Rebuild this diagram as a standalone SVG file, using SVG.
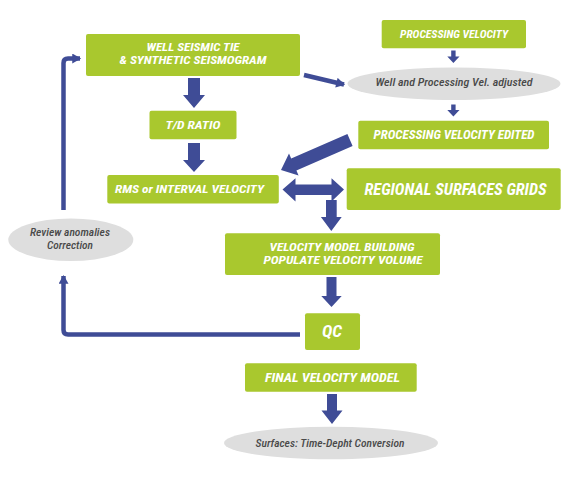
<svg xmlns="http://www.w3.org/2000/svg" width="570" height="480" viewBox="0 0 570 480">
<style>
.box{fill:#a9c82e;}
.ell{fill:#dedede;}
.t{font-family:"Roboto Condensed",Roboto,"Liberation Sans",sans-serif;font-style:italic;font-weight:bold;fill:#ffffff;text-anchor:middle;}
.g{font-family:"Roboto Condensed",Roboto,"Liberation Sans",sans-serif;font-style:italic;font-weight:500;fill:#4a4a4a;text-anchor:middle;}
.fat{fill:#3f4c96;}
.thin{fill:none;stroke:#3f4c96;stroke-width:4.5;}
</style>
<defs>
<marker id="ah" markerUnits="userSpaceOnUse" markerWidth="10" markerHeight="10" viewBox="0 0 8 9" refX="7" refY="4.5" orient="auto">
<path d="M0,0 L8,4.5 L0,9 Z" fill="#3f4c96"/>
</marker>
</defs>
<rect width="570" height="480" fill="#ffffff"/>

<g id="connectors">
<path class="thin" d="M300,334.5 H68 Q63.5,334.5 63.5,330 V276" marker-end="url(#ah)"/>
<path class="thin" d="M63.5,210 V63 Q63.5,58.5 68,58.5 H80" marker-end="url(#ah)"/>
<path class="thin" d="M304,75 L344,84.5" marker-end="url(#ah)"/>
<polygon class="fat" points="451.2,50.5 455.6,50.5 455.6,56.5 459.5,56.5 453.4,63 447.3,56.5 451.2,56.5"/>
<polygon class="fat" points="451.2,104.5 455.6,104.5 455.6,110 459.5,110 453.4,116.5 447.3,110 451.2,110"/>
<polygon class="fat" points="188,78 200,78 200,95 205,95 194,108 183,95 188,95"/>
<polygon class="fat" points="188,143 200,143 200,160 205,160 194,172 183,160 188,160"/>
<polygon class="fat" points="347.4,134 352.6,146 296.4,170.4 298.6,175.4 281,170 289,153.4 291.2,158.4"/>
<polygon class="fat" points="282.5,189.5 295.5,178.3 295.5,184.5 331.5,184.5 331.5,178.3 344,189.5 331.5,201.5 331.5,195 295.5,195 295.5,201.5"/>
<polygon class="fat" points="326,200 336.7,200 336.7,217 341.7,217 331.3,231 320.9,217 326,217"/>
<polygon class="fat" points="326.5,277 336.5,277 336.5,296 341.7,296 331.5,307 321.3,296 326.5,296"/>
<polygon class="fat" points="327,394 337,394 337,410.5 342.5,410.5 332,424 321.5,410.5 327,410.5"/>
</g>

<g id="well-tie">
<rect class="box" x="86" y="34" width="214" height="42" rx="2"/>
<text class="t" x="193" y="50.5" font-size="11.5" textLength="93" lengthAdjust="spacingAndGlyphs">WELL SEISMIC TIE</text>
<text class="t" x="193" y="64" font-size="11.5" textLength="147" lengthAdjust="spacingAndGlyphs">&amp; SYNTHETIC SEISMOGRAM</text>
</g>

<g id="td-ratio">
<rect class="box" x="149.5" y="110.7" width="87" height="28.6" rx="2"/>
<text class="t" x="193" y="128.5" font-size="11.5" textLength="55" lengthAdjust="spacingAndGlyphs">T/D RATIO</text>
</g>

<g id="rms">
<rect class="box" x="107.3" y="175" width="171.5" height="28.5" rx="2"/>
<text class="t" x="189.5" y="193.3" font-size="11.5" textLength="149" lengthAdjust="spacingAndGlyphs">RMS or INTERVAL VELOCITY</text>
</g>

<g id="processing-velocity">
<rect class="box" x="381.7" y="20" width="144.3" height="28.3" rx="2"/>
<text class="t" x="454" y="38" font-size="10.5" textLength="108" lengthAdjust="spacingAndGlyphs">PROCESSING VELOCITY</text>
</g>

<g id="vel-adjusted">
<ellipse class="ell" cx="454" cy="83.7" rx="106.5" ry="16.3"/>
<text class="g" x="454" y="85.5" font-size="11" textLength="157" lengthAdjust="spacingAndGlyphs">Well and Processing Vel. adjusted</text>
</g>

<g id="processing-velocity-edited">
<rect class="box" x="358.3" y="120.7" width="190.7" height="28.6" rx="2"/>
<text class="t" x="454" y="139.3" font-size="12" textLength="161" lengthAdjust="spacingAndGlyphs">PROCESSING VELOCITY EDITED</text>
</g>

<g id="regional-grids">
<rect class="box" x="346.7" y="168.3" width="214" height="41.7" rx="2"/>
<text class="t" x="455.5" y="195" font-size="16" textLength="182" lengthAdjust="spacingAndGlyphs">REGIONAL SURFACES GRIDS</text>
</g>

<g id="velocity-model-building">
<rect class="box" x="225" y="233.3" width="215" height="41.7" rx="2"/>
<text class="t" x="342" y="251" font-size="11" textLength="145" lengthAdjust="spacingAndGlyphs">VELOCITY MODEL BUILDING</text>
<text class="t" x="343" y="264" font-size="11" textLength="159" lengthAdjust="spacingAndGlyphs">POPULATE VELOCITY VOLUME</text>
</g>

<g id="review">
<ellipse class="ell" cx="70.8" cy="239.7" rx="62.5" ry="21.3"/>
<text class="g" x="70" y="236.3" font-size="10.5" textLength="80" lengthAdjust="spacingAndGlyphs">Review anomalies</text>
<text class="g" x="70" y="249" font-size="10.5" textLength="46" lengthAdjust="spacingAndGlyphs">Correction</text>
</g>

<g id="qc">
<rect class="box" x="305" y="313.3" width="55" height="36.7" rx="2"/>
<text class="t" x="332" y="337" font-size="16" textLength="20" lengthAdjust="spacingAndGlyphs">QC</text>
</g>

<g id="final-velocity-model">
<rect class="box" x="245" y="363.3" width="171.7" height="28.4" rx="2"/>
<text class="t" x="332.5" y="381.7" font-size="12" textLength="135" lengthAdjust="spacingAndGlyphs">FINAL VELOCITY MODEL</text>
</g>

<g id="surfaces-conversion">
<ellipse class="ell" cx="331" cy="443" rx="107" ry="16.3"/>
<text class="g" x="330" y="446.7" font-size="10.5" textLength="149" lengthAdjust="spacingAndGlyphs">Surfaces: Time-Depht Conversion</text>
</g>
</svg>
